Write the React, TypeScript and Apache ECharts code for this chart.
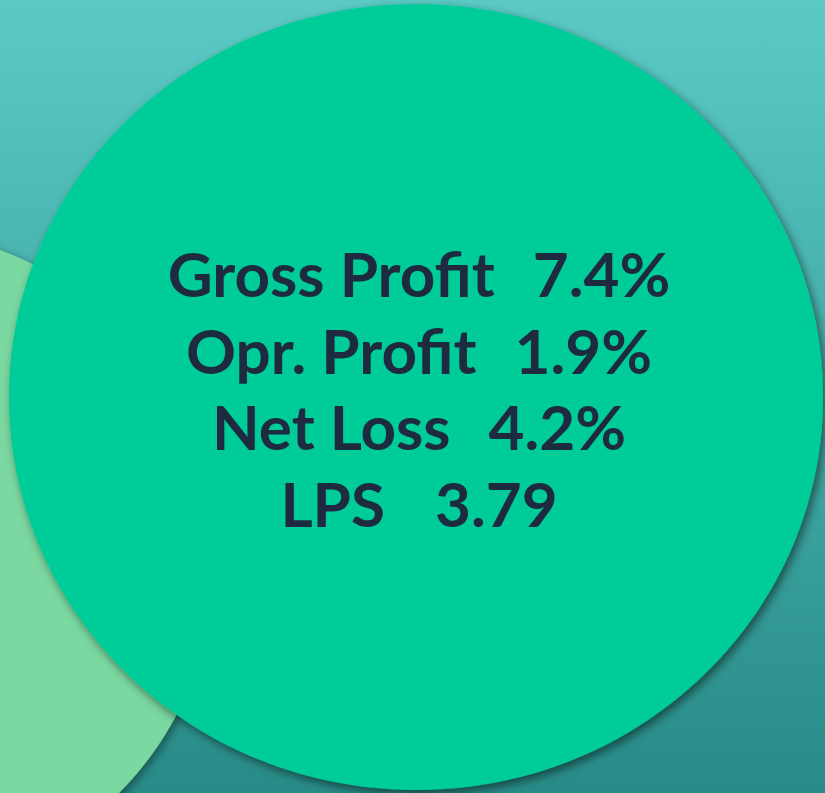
import React, { useEffect, useRef } from "react";
import * as echarts from "echarts";

const metricLabels = ["Gross Profit", "Opr. Profit", "Net Loss", "LPS"];
const metricValues = ["7.4%", "1.9%", "4.2%", "3.79"];

const W = 825;
const H = 793;

export default function App() {
  const ref = useRef<HTMLDivElement>(null);
  useEffect(() => {
    document.body.style.margin = "0";
    const chart = echarts.init(ref.current!, null, { renderer: "svg", width: W, height: H });
    const rowY0 = 304;
    const rowStep = 76.7;
    const centerX = 419;
    const textEls = metricLabels.map((lab, i) => ({
      type: "text",
      x: centerX,
      y: rowY0 + i * rowStep,
      style: {
        text: `{l|${lab}}{g|}{v|${metricValues[i]}}`,
        align: "center",
        verticalAlign: "bottom",
        rich: {
          l: { fontFamily: "Lato", fontWeight: "bold", fontSize: 62, fill: "#1E2A40" },
          g: { width: i === 3 ? 50 : 38 },
          v: { fontFamily: "Lato", fontWeight: "bold", fontSize: 62, fill: "#1E2A40" },
        },
      },
      z: 10,
    }));
    chart.setOption({
      animation: false,
      graphic: [
        {
          type: "rect",
          shape: { x: 0, y: 0, width: W, height: H },
          style: {
            fill: new echarts.graphic.LinearGradient(0, 0, 0, 1, [
              { offset: 0, color: "#5BCAC5" },
              { offset: 1, color: "#288B87" },
            ]),
          },
          z: 0,
        },
        {
          type: "circle",
          shape: { cx: -116, cy: 560, r: 331 },
          style: {
            fill: "#7AD8A0",
            shadowBlur: 10,
            shadowOffsetX: 3,
            shadowOffsetY: 3,
            shadowColor: "rgba(0,0,0,0.4)",
          },
          z: 1,
        },
        {
          type: "ellipse",
          shape: { cx: 416, cy: 397, rx: 407, ry: 393 },
          style: {
            fill: "#00CC99",
            shadowBlur: 10,
            shadowOffsetX: 3,
            shadowOffsetY: 4,
            shadowColor: "rgba(0,0,0,0.5)",
          },
          z: 2,
        },
        ...textEls,
      ],
    });
    return () => chart.dispose();
  }, []);
  return <div ref={ref} style={{ width: W, height: H }} />;
}
